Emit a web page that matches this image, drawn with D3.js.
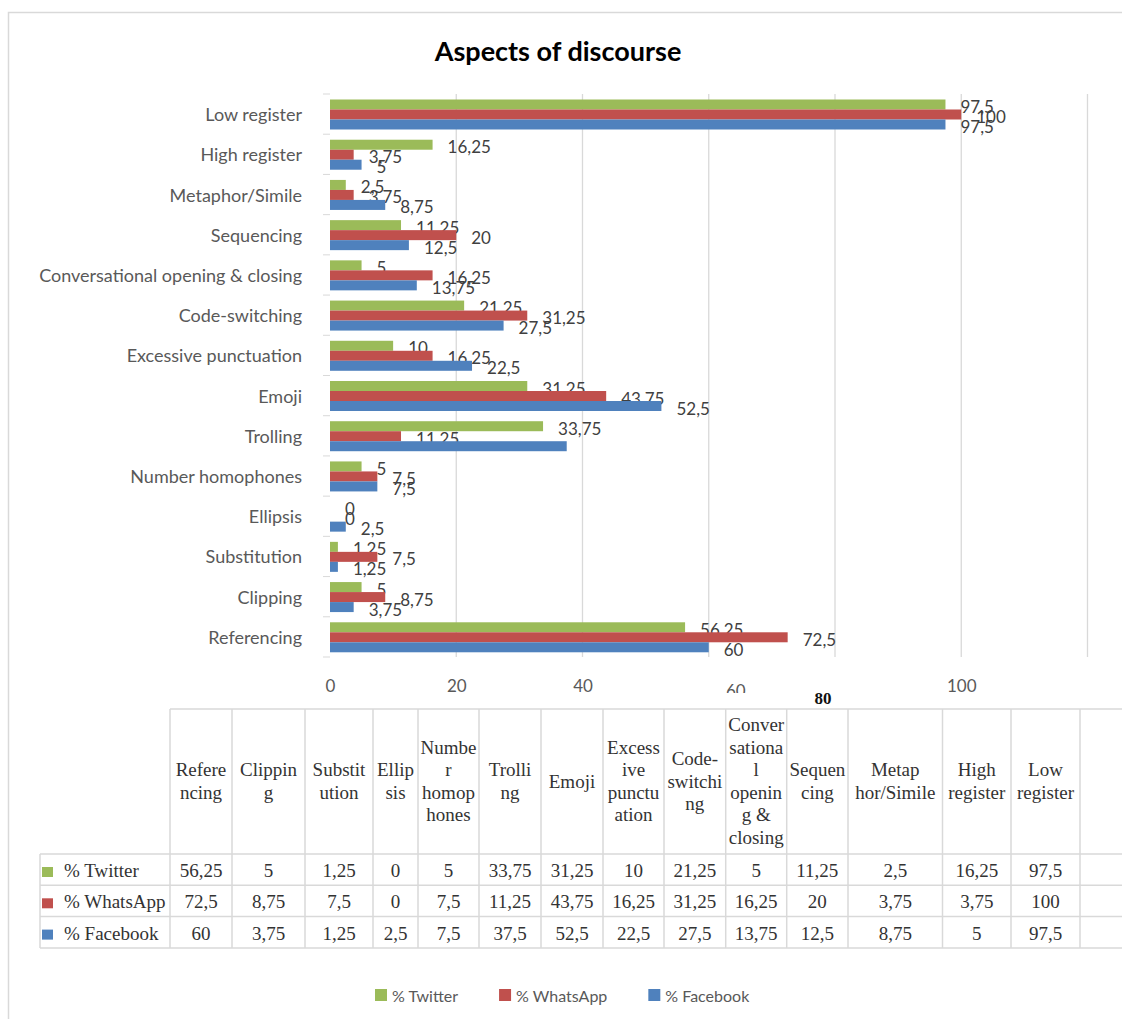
<!DOCTYPE html>
<html>
<head>
<meta charset="UTF-8">
<title>Aspects of discourse</title>
<script src="https://cdn.jsdelivr.net/npm/d3@7"></script>
<style type="text/css">
body { margin: 0; background: #fff; }
svg { display: block; }
.cat text { font: 18px Lato, sans-serif; fill: #595959; }
.lbl { font: 17px Lato, sans-serif; fill: #404040; }
.tbl text { font: 19px "Liberation Serif", "Times New Roman", serif; fill: #333; }
</style>
</head>
<body>
<div class="chart"></div>
<script>
// values (bottom to top in the bar chart)
var categories = ["Referencing", "Clipping", "Substitution", "Ellipsis", "Number homophones",
  "Trolling", "Emoji", "Excessive punctuation", "Code-switching",
  "Conversational opening & closing", "Sequencing", "Metaphor/Simile", "High register", "Low register"];
var twitter  = [56.25, 5, 1.25, 0, 5, 33.75, 31.25, 10, 21.25, 5, 11.25, 2.5, 16.25, 97.5];
var whatsapp = [72.5, 8.75, 7.5, 0, 7.5, 11.25, 43.75, 16.25, 31.25, 16.25, 20, 3.75, 3.75, 100];
var facebook = [60, 3.75, 1.25, 2.5, 7.5, 37.5, 52.5, 22.5, 27.5, 13.75, 12.5, 8.75, 5, 97.5];
var seriesNames = ["% Twitter", "% WhatsApp", "% Facebook"];
var xTicks = [0, 20, 40, 60, 80, 100];
var gridTicks = [20, 40, 60, 80, 100, 120];
// column headings of the data table, as wrapped in the picture
var headerLines = [["Refere", "ncing"], ["Clippin", "g"], ["Substit", "ution"], ["Ellip", "sis"],
  ["Numbe", "r", "homop", "hones"], ["Trolli", "ng"], ["Emoji"], ["Excess", "ive", "punctu", "ation"],
  ["Code-", "switchi", "ng"], ["Conver", "sationa", "l", "openin", "g &", "closing"],
  ["Sequen", "cing"], ["Metap", "hor/Simile"], ["High", "register"], ["Low", "register"]];
// labels that are not shown in the picture
var hiddenLabels = [["Trolling", 2]];

var colors = ["#9BBB59", "#C0504D", "#4F81BD"];
var series = [twitter, whatsapp, facebook];
var colEdges = [170, 232, 305, 373, 418, 479, 541, 603, 664, 725.7, 786.7, 848, 942.5, 1011, 1080];

var W = 1122, H = 1019;
var svg = d3.select(".chart").append("svg").attr("width", W).attr("height", H);

svg.append("rect")
  .attr("x", 8.5).attr("y", 12.5).attr("width", W + 20).attr("height", H + 20)
  .attr("fill", "none").attr("stroke", "#d9d9d9").attr("stroke-width", 1.5);

svg.append("text")
  .attr("x", 558).attr("y", 50).attr("text-anchor", "middle").attr("dominant-baseline", "central")
  .style("font", "bold 27px Lato, sans-serif").attr("fill", "#000")
  .text("Aspects of discourse");

var x = d3.scaleLinear().domain([0, 120]).range([330, 1087.5]);
var y = d3.scaleBand().domain(categories.slice().reverse()).range([94, 657]);
var sub = d3.scaleBand().domain(d3.range(3)).range([5.5, 35.5]);

// grid lines
svg.append("g").selectAll("line").data(gridTicks).enter().append("line")
  .attr("x1", function (d) { return x(d); }).attr("x2", function (d) { return x(d); })
  .attr("y1", 94).attr("y2", 657)
  .attr("stroke", "#d9d9d9").attr("stroke-width", 1.3);

// category ticks at band edges
var edges = categories.map(function (c) { return y(c); }).concat([657]);
svg.append("g").selectAll("line").data(edges).enter().append("line")
  .attr("x1", 323).attr("x2", 330)
  .attr("y1", function (d) { return d; }).attr("y2", function (d) { return d; })
  .attr("stroke", "#d9d9d9").attr("stroke-width", 1);

var cat = svg.append("g").attr("class", "cat");
cat.selectAll("text").data(categories).enter().append("text")
  .attr("x", 302).attr("y", function (d) { return y(d) + y.bandwidth() / 2; })
  .attr("text-anchor", "end").attr("dominant-baseline", "central")
  .text(function (d) { return d; });

function fmt(v) { return String(v).replace(".", ","); }
function hidden(c, s) {
  return hiddenLabels.some(function (h) { return h[0] === c && h[1] === s; });
}

// bars and labels, series by series
series.forEach(function (vals, s) {
  var pts = vals.map(function (v, i) { return { v: v, c: categories[i] }; });
  var g = svg.append("g");
  g.selectAll("rect").data(pts).enter().append("rect")
    .attr("x", x(0))
    .attr("y", function (d) { return y(d.c) + sub(s); })
    .attr("width", function (d) { return x(d.v) - x(0); })
    .attr("height", sub.bandwidth())
    .attr("fill", colors[s]);
  g.selectAll("text").data(pts.filter(function (d) { return !hidden(d.c, s); }))
    .enter().append("text")
    .attr("class", "lbl")
    .attr("x", function (d) { return x(d.v) + 15; })
    .attr("y", function (d) { return y(d.c) + sub(s) + sub.bandwidth() / 2 + 2; })
    .attr("dominant-baseline", "central")
    .text(function (d) { return fmt(d.v); });
});

// x axis labels
svg.append("clipPath").attr("id", "clip60").append("rect")
  .attr("x", -50).attr("y", -30).attr("width", 100).attr("height", 33);
var xa = svg.append("g").attr("transform", "translate(0,685)")
  .call(d3.axisBottom(x).tickValues(xTicks).tickSize(0).tickPadding(0));
xa.select(".domain").remove();
xa.selectAll("text")
  .attr("y", 0).attr("dy", null).attr("dominant-baseline", "central")
  .style("font", "17px Lato, sans-serif").attr("fill", "#595959");
xa.selectAll(".tick").filter(function (d) { return d === 60; })
  .attr("transform", "translate(" + (x(60) + 27) + ",5)")
  .attr("clip-path", "url(#clip60)");
xa.selectAll(".tick").filter(function (d) { return d === 80; })
  .attr("transform", "translate(" + (x(80) - 12) + ",13)")
  .select("text").style("font", "bold 17px 'Liberation Serif', serif").attr("fill", "#111");

// data table
var tbl = svg.append("g").attr("class", "tbl");
var tableTop = 709, headBot = 854, rowH = 31.3, tableBot = headBot + 3 * rowH;
var lineCol = "#d9d9d9";
tbl.append("line").attr("x1", 170).attr("x2", W).attr("y1", tableTop).attr("y2", tableTop)
  .attr("stroke", lineCol).attr("stroke-width", 1.5);
d3.range(4).forEach(function (k) {
  var yy = headBot + k * rowH;
  tbl.append("line").attr("x1", 40).attr("x2", W).attr("y1", yy).attr("y2", yy)
    .attr("stroke", lineCol).attr("stroke-width", 1.5);
});
tbl.append("line").attr("x1", 40).attr("x2", 40).attr("y1", headBot).attr("y2", tableBot)
  .attr("stroke", lineCol).attr("stroke-width", 1.5);
colEdges.forEach(function (cx) {
  tbl.append("line").attr("x1", cx).attr("x2", cx).attr("y1", tableTop).attr("y2", tableBot)
    .attr("stroke", lineCol).attr("stroke-width", 1.5);
});

headerLines.forEach(function (lines, i) {
  var cx = (colEdges[i] + colEdges[i + 1]) / 2;
  var lh = 22.5, y0 = 781 - (lines.length - 1) * lh / 2;
  lines.forEach(function (t, k) {
    tbl.append("text").attr("x", cx).attr("y", y0 + k * lh)
      .attr("text-anchor", "middle").attr("dominant-baseline", "central").text(t);
  });
});

series.forEach(function (vals, s) {
  var ry = headBot + s * rowH;
  tbl.append("rect").attr("x", 42).attr("y", ry + 13).attr("width", 11).attr("height", 10)
    .attr("fill", colors[s]);
  tbl.append("text").attr("x", 64).attr("y", ry + rowH / 2 + 1)
    .attr("dominant-baseline", "central").text(seriesNames[s]);
  vals.forEach(function (v, i) {
    tbl.append("text").attr("x", (colEdges[i] + colEdges[i + 1]) / 2).attr("y", ry + rowH / 2 + 1)
      .attr("text-anchor", "middle").attr("dominant-baseline", "central").text(fmt(v));
  });
});

// legend
var lx = 375;
seriesNames.forEach(function (name, s) {
  var g = svg.append("g").attr("transform", "translate(" + lx + ",989)");
  g.append("rect").attr("width", 12).attr("height", 12).attr("fill", colors[s]);
  var t = g.append("text").attr("x", 17).attr("y", 6).attr("dominant-baseline", "central")
    .style("font", "16px Lato, sans-serif").attr("fill", "#595959").text(name);
  lx += 17 + t.node().getComputedTextLength() + 41;
});
</script>
</body>
</html>
